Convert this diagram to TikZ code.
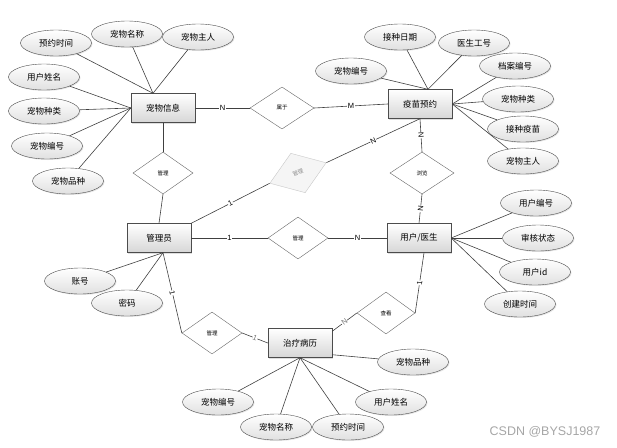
\documentclass[tikz,border=0pt]{standalone}
\usepackage{fontspec}
\setmainfont{Liberation Sans}
\newfontfamily\cjk{Noto Sans CJK SC}
\usetikzlibrary{shapes.geometric,shadows,calc}

\begin{document}
\begin{tikzpicture}[x=1pt,y=-1pt,
		entity/.style={rectangle,draw=black!70,top color=white,bottom color=black!16,
			minimum width=64pt,minimum height=29pt,inner sep=1pt,font=\cjk\fontsize{8.5}{10}\selectfont,
			drop shadow={shadow xshift=1.2pt,shadow yshift=-1.2pt,opacity=.25}},
		attr/.style={ellipse,draw=black!70,top color=white,bottom color=black!12,
			minimum width=71pt,minimum height=26pt,inner sep=0pt,font=\cjk\fontsize{8.5}{10}\selectfont,
			drop shadow={shadow xshift=1pt,shadow yshift=-1pt,opacity=.2}},
		rel/.style={diamond,draw=black!60,fill=white,minimum width=60pt,minimum height=42pt,
			inner sep=0pt,font=\cjk\fontsize{5.5}{6}\selectfont},
		ghost/.style={draw=black!22,fill=black!4,text=black!45,rotate=20},
		link/.style={draw=black!75,line width=.6pt},
		card/.style={fill=white,inner sep=.4pt,font=\fontsize{7.5}{8}\selectfont}]
	\useasboundingbox (0,0) rectangle (617,447);
	
	% Entities
	\node[entity] (pinfo) at (163,108) {宠物信息};
	\node[entity] (vacc) at (420,104) {疫苗预约};
	\node[entity] (admin) at (159,238) {管理员};
	\node[entity] (user) at (419,238) {用户/医生};
	\node[entity] (record) at (300,343) {治疗病历};
	
	% Relations
	\node[rel,minimum width=64pt] (belong) at (282,108) {属于};
	\node[rel] (mng1) at (163,173) {管理};
	\node[rel,ghost] (mng2) at (298,173) {管理};
	\node[rel,minimum width=64pt] (browse) at (422,173) {浏览};
	\node[rel] (mng3) at (298,238) {管理};
	\node[rel,minimum width=58pt] (view) at (386,313) {查看};
	\node[rel] (mng4) at (212,333) {管理};
	
	% Attributes of the pet
	\node[attr] (pTime) at (56,43) {预约时间};
	\node[attr] (pName) at (127,34) {宠物名称};
	\node[attr] (pOwner) at (198,37) {宠物主人};
	\node[attr] (pUser) at (44,77) {用户姓名};
	\node[attr] (pKind) at (44,111) {宠物种类};
	\node[attr] (pId) at (47,146) {宠物编号};
	\node[attr] (pBreed) at (68,181) {宠物品种};
	
	% Attributes of the vaccination
	\node[attr] (vId) at (351,71) {宠物编号};
	\node[attr] (vDate) at (400,37) {接种日期};
	\node[attr] (vDoc) at (474,43) {医生工号};
	\node[attr] (vFile) at (515,66) {档案编号};
	\node[attr] (vKind) at (518,99) {宠物种类};
	\node[attr] (vVac) at (523,129) {接种疫苗};
	\node[attr] (vOwner) at (523,161) {宠物主人};
	
	% Attributes of the user
	\node[attr] (uId) at (536,203) {用户编号};
	\node[attr] (uState) at (538,238) {审核状态};
	\node[attr] (uUid) at (535,272) {用户id};
	\node[attr] (uTime) at (520,304) {创建时间};
	
	% Attributes of the admin
	\node[attr] (aAcc) at (80,281) {账号};
	\node[attr] (aPwd) at (127,303) {密码};
	
	% Attributes of the record
	\node[attr] (rId) at (218,402) {宠物编号};
	\node[attr] (rName) at (276,427) {宠物名称};
	\node[attr] (rTime) at (348,427) {预约时间};
	\node[attr] (rUser) at (391,402) {用户姓名};
	\node[attr] (rBreed) at (413,362) {宠物品种};
	
	\coordinate (pinfoTop) at ($(pinfo.north)+(-10,0)$);
	\coordinate (vaccTop) at ($(vacc.north)+(8,0)$);
	\coordinate (adminBot) at ($(admin.south)+(4,0)$);
	\coordinate (userBot) at ($(user.south)+(5,0)$);
	
	% Attribute links
	\draw[link] (pTime) -- (pinfoTop);
	\draw[link] (pName) -- (pinfoTop);
	\draw[link] (pOwner) -- (pinfoTop);
	\draw[link] (pUser) -- (pinfo.west);
	\draw[link] (pKind) -- (pinfo.west);
	\draw[link] (pId) -- (pinfo.west);
	\draw[link] (pBreed) -- (pinfo.west);
	\draw[link] (vId) -- (vaccTop);
	\draw[link] (vDate) -- (vaccTop);
	\draw[link] (vDoc) -- (vaccTop);
	\draw[link] (vFile) -- (vacc.east);
	\draw[link] (vKind) -- (vacc.east);
	\draw[link] (vVac) -- (vacc.east);
	\draw[link] (vOwner) -- (vacc.east);
	\draw[link] (uId) -- (user.east);
	\draw[link] (uState) -- (user.east);
	\draw[link] (uUid) -- (user.east);
	\draw[link] (uTime) -- (user.east);
	\draw[link] (aAcc) -- (adminBot);
	\draw[link] (aPwd) -- (adminBot);
	\draw[link] (rId) -- (record.south);
	\draw[link] (rName) -- (record.south);
	\draw[link] (rTime) -- (record.south);
	\draw[link] (rUser) -- (record.south);
	\draw[link] (rBreed) -- (record.-20);
	
	% Relation links
	\draw[link] (pinfo.east) -- (belong.west) node[card,midway] {N};
	\draw[link] (belong.east) -- (vacc.west) node[card,midway] {M};
	\draw[link] (pinfo.south) -- (mng1.north);
	\draw[link] (mng1.south) -- (admin.north);
	\draw[link] (admin.north east) -- (mng2.west) node[card,midway,sloped] {1};
	\draw[link] (mng2.east) -- (vacc.south) node[card,midway,sloped] {N};
	\draw[link] (vacc.south) -- (browse.north) node[card,midway,sloped] {N};
	\draw[link] (browse.south) -- (user.north) node[card,midway,sloped] {N};
	\draw[link] (admin.east) -- (mng3.west) node[card,midway] {1};
	\draw[link] (mng3.east) -- (user.west) node[card,midway] {N};
	\draw[link] (adminBot) -- (mng4.west) node[card,midway,sloped] {1};
	\draw[link] (mng4.east) -- (record.west) node[card,midway,sloped,text=black!55] {1};
	\draw[link] (userBot) -- (view.east) node[card,midway,sloped] {1};
	\draw[link] (view.west) -- (record.20) node[card,midway,sloped,text=black!55] {N};
	
	% Watermark
	\node[text=black!35,font=\fontsize{12.5}{14}\selectfont] (mark) at (545,432) {CSDN @BYSJ1987};
\end{tikzpicture}
\end{document}
